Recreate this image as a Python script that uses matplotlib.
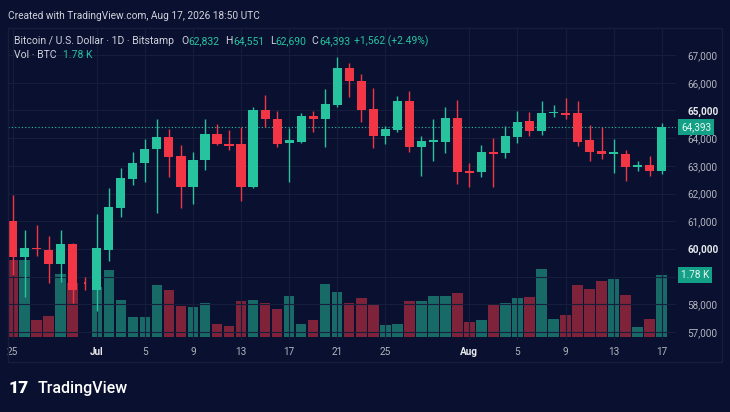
import matplotlib
matplotlib.use("Agg")
import matplotlib.pyplot as plt
import matplotlib.transforms as mtransforms
from matplotlib.patches import Rectangle
import numpy as np

plt.rcParams['font.family'] = ['Roboto', 'DejaVu Sans']

# 数据: 每根K线一个槽位 (6月25日 ... 8月17日, 7月1日前有一根很小的K线)
tick_pos = [0, 7, 11, 15, 19, 23, 27, 31, 38, 42, 46, 50, 54]
tick_labels = ['25', 'Jul', '5', '9', '13', '17', '21', '25', 'Aug', '5', '9', '13', '17']

opens = [61010, 59700, 60040, 59950, 59470, 60170, 58820, 58520, 59960, 61490,
         62525, 63095, 63600, 64030, 63355, 62250, 63200, 64140, 63790, 63780,
         62250, 65020, 64705, 63815, 63875, 64800, 64680, 65200, 66525, 66075,
         65045, 64090, 64295, 65355, 63680, 63850, 63875, 64740, 62825, 62770,
         63510, 63455, 64030, 64620, 64270, 64900, 64920, 64900, 63935, 63535,
         63430, 63430, 62970, 63030, 62832]
highs = [61950, 60690, 60865, 60480, 60685, 60225, 59000, 61260, 62190, 62935,
         63490, 63960, 64680, 64330, 63755, 63490, 64695, 64510, 64295, 64390,
         65115, 65560, 64970, 64355, 64900, 64980, 65765, 66940, 66705, 66305,
         65800, 64440, 65535, 65705, 64080, 64695, 65115, 65380, 63095, 63755,
         64015, 64450, 64980, 64955, 65345, 65200, 65440, 65345, 64475, 64415,
         63960, 63575, 63175, 63355, 64551]
lows = [59060, 58280, 59745, 58780, 58820, 58060, 58520, 57760, 59575, 61145,
        62310, 62405, 61290, 62610, 61470, 61625, 62850, 63750, 63575, 61745,
        62190, 64415, 63690, 62430, 63815, 64235, 63690, 65115, 65500, 64595,
        63655, 63780, 64210, 63510, 62635, 63175, 63475, 62345, 62225, 62610,
        62225, 63275, 63815, 64090, 64115, 64775, 64680, 63730, 63175, 63235,
        62755, 62465, 62825, 62635, 62690]
closes = [59700, 60045, 59985, 59470, 60170, 58520, 58735, 60025, 61505, 62550,
          63115, 63600, 64030, 63310, 62250, 63210, 64140, 63780, 63730, 62250,
          65020, 64695, 63780, 63935, 64810, 64680, 65235, 66525, 66065, 65005,
          64080, 64320, 65345, 63680, 63900, 63935, 64740, 62790, 62755, 63510,
          63440, 64080, 64595, 64260, 64900, 64955, 64850, 63875, 63510, 63420,
          63475, 62970, 63030, 62831, 64393]
volumes = [2200, 2200, 480, 610, 1820, 1550, 0, 1420, 1920, 1050,
           555, 555, 1480, 1340, 880, 860, 960, 355, 315, 1025,
           1045, 985, 785, 1170, 355, 470, 1530, 1300, 985, 1120,
           930, 325, 375, 1025, 1025, 1170, 1170, 1265, 430, 480,
           910, 985, 1120, 1140, 1965, 500, 625, 1485, 1390, 1600,
           1655, 1215, 285, 510, 1780]
price_ticks = [57000, 58000, 59000, 60000, 61000, 62000, 63000, 64000, 65000, 66000, 67000]

BG = '#0a1130'
GRID = '#161e3c'
UP = '#27c39f'
DOWN = '#f23645'
TXT = '#d1d4dc'
AXTXT = '#b2b5be'

W, H = 730, 412
fig = plt.figure(figsize=(W / 100, H / 100), dpi=100, facecolor=BG)


def fx(x):
    return x / W


def fy(y):
    return 1 - y / H


o = np.array(opens)
h = np.array(highs)
l = np.array(lows)
c = np.array(closes)
v = np.array(volumes)
x = np.arange(len(o))
up = c >= o
col = np.where(up, UP, DOWN)

rect = [fx(8), fy(340), fx(676) - fx(8), fy(28) - fy(340)]
axv = fig.add_axes(rect)
axv.set_facecolor(BG)
axv.bar(x, v, width=0.88, color=col, alpha=0.5, linewidth=0)
axv.set_xlim(-0.39, 55.19)
axv.set_ylim(-95, 8906)
axv.set_xticks([])
axv.set_yticks([])
for s in axv.spines.values():
    s.set_visible(False)

ax = fig.add_axes(rect)
ax.patch.set_visible(False)
for s in ax.spines.values():
    s.set_visible(False)
ax.set_xlim(-0.39, 55.19)
ax.set_ylim(56712, 67979)
ax.set_axisbelow(True)
ax.grid(color=GRID, linewidth=0.8)

# K线
body_w = np.where(v > 0, 0.76, 0.2)
ax.vlines(x, l, h, colors=col, linewidth=1.0, zorder=3)
bottom = np.minimum(o, c)
height = np.maximum(np.abs(c - o), 55)
ax.bar(x, height, bottom=bottom, width=body_w, color=col, linewidth=0, zorder=4)

ax.axhline(c[-1], color=UP, linestyle=(0, (1, 2)), linewidth=0.8, zorder=2)

# 成交量标签挡住的那个价格刻度不显示文字
vol_tr = axv.transData + ax.transData.inverted()
vol_label_price = vol_tr.transform((0, v[-1]))[1]
ax.yaxis.tick_right()
ax.set_yticks(price_ticks)
ax.set_yticklabels(['' if abs(t - vol_label_price) < 400 else f'{t:,}' for t in price_ticks])
ax.tick_params(axis='y', length=0, pad=8, labelsize=7.2, labelcolor=AXTXT)
for t, lab in zip(price_ticks, ax.get_yticklabels()):
    if t % 5000 == 0:
        lab.set_fontweight('bold')
        lab.set_color('#e8e9ee')

ax.set_xticks(tick_pos)
ax.set_xticklabels(tick_labels)
ax.tick_params(axis='x', length=0, pad=5, labelsize=7.2, labelcolor=AXTXT)
for lab in ax.get_xticklabels():
    if lab.get_text() in ('Jul', 'Aug'):
        lab.set_fontweight('bold')
        lab.set_color('#e8e9ee')

# 右侧标签
tr_price = mtransforms.blended_transform_factory(ax.transAxes, ax.transData)
ax.text(1 + 5 / 668, c[-1], f'{c[-1]:,}', transform=tr_price, ha='left', va='center',
        color='#e6f7f2', fontsize=7.2, zorder=10, clip_on=False,
        bbox=dict(boxstyle='square,pad=0.3', fc='#14a086', ec='none'))
tr_vol = mtransforms.blended_transform_factory(ax.transAxes, axv.transData)
ax.text(1 + 5 / 668, v[-1], f'{v[-1] / 1000:.2f} K', transform=tr_vol, ha='left', va='center',
        color='#e6f7f2', fontsize=7.2, zorder=10, clip_on=False,
        bbox=dict(boxstyle='square,pad=0.3', fc='#14a086', ec='none'))

# 边框
fig.add_artist(Rectangle((fx(8), fy(362)), fx(722) - fx(8), fy(28) - fy(362),
                         transform=fig.transFigure, fill=False, ec=GRID, lw=1))

# 顶部文字
fig.text(fx(8), fy(16), 'Created with TradingView.com, Aug 17, 2026 18:50 UTC',
         color=TXT, fontsize=7.3, va='center')
hy = fy(41)
fig.text(fx(14), hy, 'Bitcoin / U.S. Dollar · 1D · Bitstamp', color=TXT, fontsize=7.5, va='center')
chg = c[-1] - c[-2]
pct = chg / c[-2] * 100
pieces = [(181, 'O', TXT), (188.5, f'{o[-1]:,}', UP),
          (225.5, 'H', TXT), (233, f'{h[-1]:,}', UP),
          (270, 'L', TXT), (275.5, f'{l[-1]:,}', UP),
          (311.5, 'C', TXT), (319, f'{c[-1]:,}', UP),
          (354, f'{chg:+,} ({pct:+.2f}%)', UP)]
for px, s, cc in pieces:
    fig.text(fx(px), hy, s, color=cc, fontsize=7.5, va='center')
fig.text(fx(14), fy(55), 'Vol · BTC', color=TXT, fontsize=7.5, va='center')
fig.text(fx(63), fy(55), f'{v[-1] / 1000:.2f} K', color=UP, fontsize=7.5, va='center')

# logo
fig.text(fx(9), fy(388), '17', color='white', fontsize=12.5, fontweight='heavy', va='center')
fig.text(fx(38), fy(388), 'TradingView', color='white', fontsize=11.5, fontweight='medium',
         va='center')

fig.savefig('out.png', dpi=100, facecolor=BG)
